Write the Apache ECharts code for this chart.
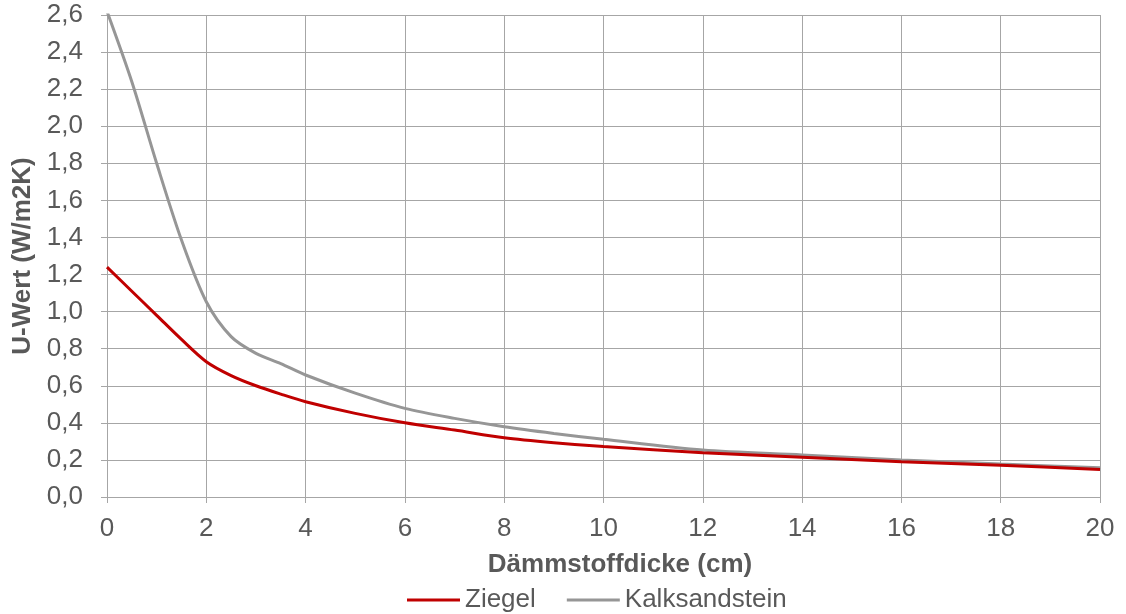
<!DOCTYPE html>
<html><head><meta charset="utf-8">
<script src="https://cdn.jsdelivr.net/npm/echarts@6/dist/echarts.min.js"></script>
<style>html,body{margin:0;padding:0;background:#fff}#c{width:1126px;height:614px}</style>
</head><body><div id="c"></div>
<script>
const xCm = [0,0.5,1,1.5,2,2.5,3,3.5,4,5,6,7,8,9,10,12,14,16,18,20];
const ziegel = [1.24,1.11,0.98,0.85,0.73,0.655,0.60,0.555,0.514,0.451,0.40,0.361,0.32,0.293,0.272,0.239,0.214,0.19,0.171,0.149];
const kalksandstein = [2.62,2.24,1.80,1.386,1.053,0.865,0.775,0.72,0.658,0.56,0.478,0.424,0.379,0.343,0.311,0.253,0.227,0.20,0.178,0.158];
const seriesNames = ['Ziegel','Kalksandstein'];
const xName = 'Dämmstoffdicke (cm)';
const yName = 'U-Wert (W/m2K)';

const font = 'Liberation Sans, Arial, sans-serif';
const fs = 26;
const txt = '#595959';
const gridC = '#a6a6a6';
const chart = echarts.init(document.getElementById('c'));
chart.setOption({
  animation:false,
  textStyle:{fontFamily:font},
  grid:{left:107,right:26,top:15,bottom:117,containLabel:false},
  legend:{top:582,left:402,icon:'rect',itemWidth:53,itemHeight:3,itemGap:31,
    textStyle:{fontSize:fs,color:txt,fontFamily:font},
    data:seriesNames},
  xAxis:{type:'value',min:0,max:20,interval:2,
    name:xName,nameLocation:'middle',nameGap:55,
    nameTextStyle:{fontSize:fs,fontWeight:'bold',color:txt,fontFamily:font,padding:[0,0,0,33]},
    axisLine:{show:true,lineStyle:{color:gridC,width:1}},
    axisTick:{show:true,length:6,lineStyle:{color:gridC}},
    axisLabel:{fontSize:fs,color:txt,margin:19,fontFamily:font},
    splitLine:{show:true,lineStyle:{color:gridC,width:1}}},
  yAxis:{type:'value',min:0,max:2.6,interval:0.2,
    name:yName,nameLocation:'middle',nameGap:70,nameRotate:90,
    nameTextStyle:{fontSize:fs,fontWeight:'bold',color:txt,fontFamily:font},
    axisLine:{show:true,lineStyle:{color:gridC,width:1}},
    axisTick:{show:true,length:6,lineStyle:{color:gridC}},
    axisLabel:{fontSize:fs,color:txt,margin:24,fontFamily:font,
      formatter:v=>v.toFixed(1).replace('.',',')},
    splitLine:{show:true,lineStyle:{color:gridC,width:1}}},
  series:[
    {name:seriesNames[0],type:'line',smooth:0.3,showSymbol:false,clip:true,
      data:xCm.map((x,i)=>[x,ziegel[i]]),
      lineStyle:{color:'#c00000',width:3},itemStyle:{color:'#c00000'},z:3},
    {name:seriesNames[1],type:'line',smooth:0.3,showSymbol:false,clip:true,
      data:xCm.map((x,i)=>[x,kalksandstein[i]]),
      lineStyle:{color:'#969696',width:3},itemStyle:{color:'#969696'},z:2}
  ]
});
</script></body></html>
